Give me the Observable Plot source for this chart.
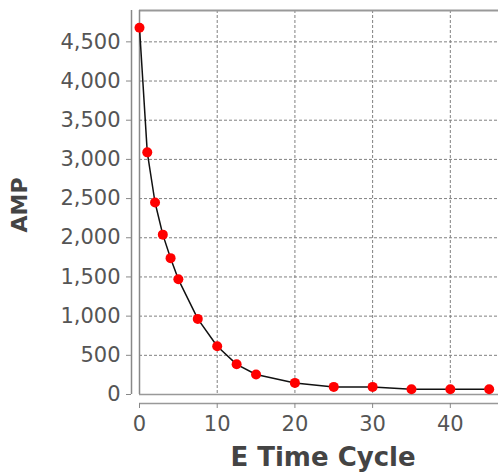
<!DOCTYPE html>
<html>
<head>
<meta charset="utf-8">
<script src="https://cdn.jsdelivr.net/npm/d3@7"></script>
<script src="https://cdn.jsdelivr.net/npm/@observablehq/plot@0.6"></script>
<style>
  html, body { margin: 0; padding: 0; background: white; }
</style>
</head>
<body>
<div id="chart"></div>
<script>
const cycles = [0, 1, 2, 3, 4, 5, 7.5, 10, 12.5, 15, 20, 25, 30, 35, 40, 45];
const amp = [4680, 3090, 2450, 2040, 1740, 1470, 965, 615, 385, 255, 148, 97, 97, 68, 68, 68];
const xTicks = [0, 10, 20, 30, 40];
const yTicks = [0, 500, 1000, 1500, 2000, 2500, 3000, 3500, 4000, 4500];
const xLabel = "E Time Cycle";
const yLabel = "AMP";

const data = cycles.map((c, i) => ({x: c, y: amp[i]}));
const yMax = 4900;

const chart = Plot.plot({
  width: 498,
  height: 474,
  marginLeft: 139,
  marginTop: 10,
  marginBottom: 80,
  marginRight: 0,
  style: {fontFamily: "DejaVu Sans", background: "white", overflow: "visible"},
  x: {domain: [0, 46.2]},
  y: {domain: [0, yMax]},
  marks: [
    Plot.gridX(xTicks, {stroke: "#808080", strokeOpacity: 1, strokeDasharray: "3,2"}),
    Plot.gridY(yTicks, {stroke: "#808080", strokeOpacity: 1, strokeDasharray: "3,2"}),
    Plot.ruleY([yMax], {stroke: "#999", strokeWidth: 2}),
    Plot.ruleX([0], {stroke: "#888", strokeWidth: 1.5}),
    Plot.ruleY([0], {stroke: "#999", strokeWidth: 1.5}),
    Plot.ruleX([0], {dx: -8, stroke: "#888", strokeWidth: 1.5}),
    Plot.ruleY([0], {dy: 9, stroke: "#999", strokeWidth: 1.5}),
    Plot.axisY({ticks: yTicks, dx: -8, tickSize: 5, tickPadding: 6, fontSize: 21, fill: "#555", stroke: "#888", label: null, tickFormat: d3.format(","), style: {letterSpacing: "1.6px"}}),
    Plot.axisX({ticks: xTicks, dy: 9, tickSize: 5, tickPadding: 8, fontSize: 21, fill: "#555", stroke: "#888", label: null, style: {letterSpacing: "1.5px"}}),
    Plot.line(data, {x: "x", y: "y", stroke: "#111", strokeWidth: 1.5}),
    Plot.dot(data, {x: "x", y: "y", r: 5, fill: "#ff0000", stroke: "none"}),
    Plot.text([xLabel], {frameAnchor: "bottom", dy: 71, dx: 4, text: d => d, fontSize: 26, fontWeight: "bold", fill: "#444", style: {letterSpacing: "1.5px"}}),
    Plot.text([yLabel], {frameAnchor: "left", dx: -120, dy: 30, rotate: -90, text: d => d, fontSize: 22, fontWeight: "bold", fill: "#444"})
  ]
});
document.getElementById("chart").appendChild(chart);
</script>
</body>
</html>
